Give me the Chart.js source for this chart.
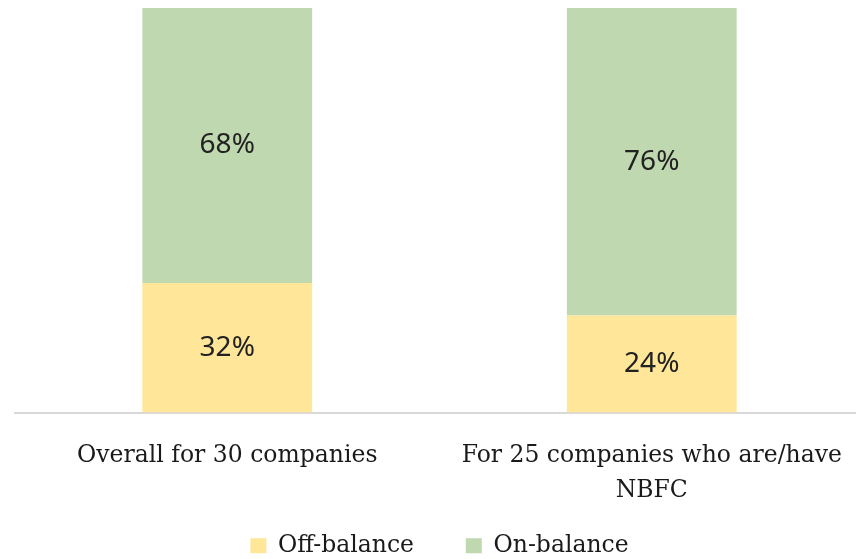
<!DOCTYPE html>
<html>
<head>
<meta charset="utf-8">
<script src="https://cdn.jsdelivr.net/npm/chart.js@4"></script>
<style>
  html, body { margin: 0; padding: 0; background: #fff; overflow: hidden; }
  #wrap { width: 866px; height: 559px; }
</style>
</head>
<body>
<div id="wrap"><canvas id="barCanvas"></canvas></div>
<script>
const categories = [["Overall for 30 companies"], ["For 25 companies who are/have", "NBFC"]];
const seriesNames = ['Off-balance', 'On-balance'];
const offBalance = [32, 24];
const onBalance = [68, 76];

// draws the % values in the middle of each segment
const segmentLabels = {
  id: 'segmentLabels',
  afterDatasetsDraw(chart) {
    const ctx = chart.ctx;
    ctx.save();
    ctx.font = '28px "Noto Sans"';
    ctx.fillStyle = '#222';
    ctx.textAlign = 'center';
    ctx.textBaseline = 'middle';
    chart.data.datasets.forEach((ds, i) => {
      chart.getDatasetMeta(i).data.forEach((bar, j) => {
        const mid = (bar.y + bar.base) / 2;
        ctx.fillText(ds.data[j] + '%', bar.x, mid);
      });
    });
    ctx.restore();
  }
};

const barChart = new Chart(document.getElementById('barCanvas'), {
  type: 'bar',
  data: {
    labels: categories,
    datasets: [{
      label: seriesNames[0],
      data: offBalance,
      backgroundColor: '#FFE699'
    }, {
      label: seriesNames[1],
      data: onBalance,
      backgroundColor: '#C0D8B0'
    }]
  },
  options: {
    responsive: true,
    maintainAspectRatio: false,
    animation: false,
    layout: { padding: { top: 8, left: 15, right: 2, bottom: -8.5 } },
    datasets: { bar: { barPercentage: 0.8, categoryPercentage: 0.5 } },
    scales: {
      x: {
        stacked: true,
        grid: { display: false },
        border: { color: '#d9d9d9', width: 2 },
        ticks: {
          color: '#1a1a1a',
          font: { family: 'DejaVu Serif', size: 23.5, lineHeight: 1.5 },
          padding: 18,
          maxRotation: 0
        }
      },
      y: {
        stacked: true,
        min: 0,
        max: 100,
        display: false
      }
    },
    plugins: {
      legend: {
        position: 'bottom',
        labels: {
          color: '#1a1a1a',
          font: { family: 'DejaVu Serif', size: 23.5 },
          boxWidth: 16,
          boxHeight: 15,
          padding: 7,
          // a little extra room after the first entry
          generateLabels(chart) {
            const items = Chart.defaults.plugins.legend.labels.generateLabels(chart);
            items.forEach((it, i) => {
              if (i < items.length - 1) it.text = it.text + '      ';
            });
            return items;
          }
        }
      },
      tooltip: { enabled: false }
    }
  },
  plugins: [segmentLabels]
});
</script>
</body>
</html>
